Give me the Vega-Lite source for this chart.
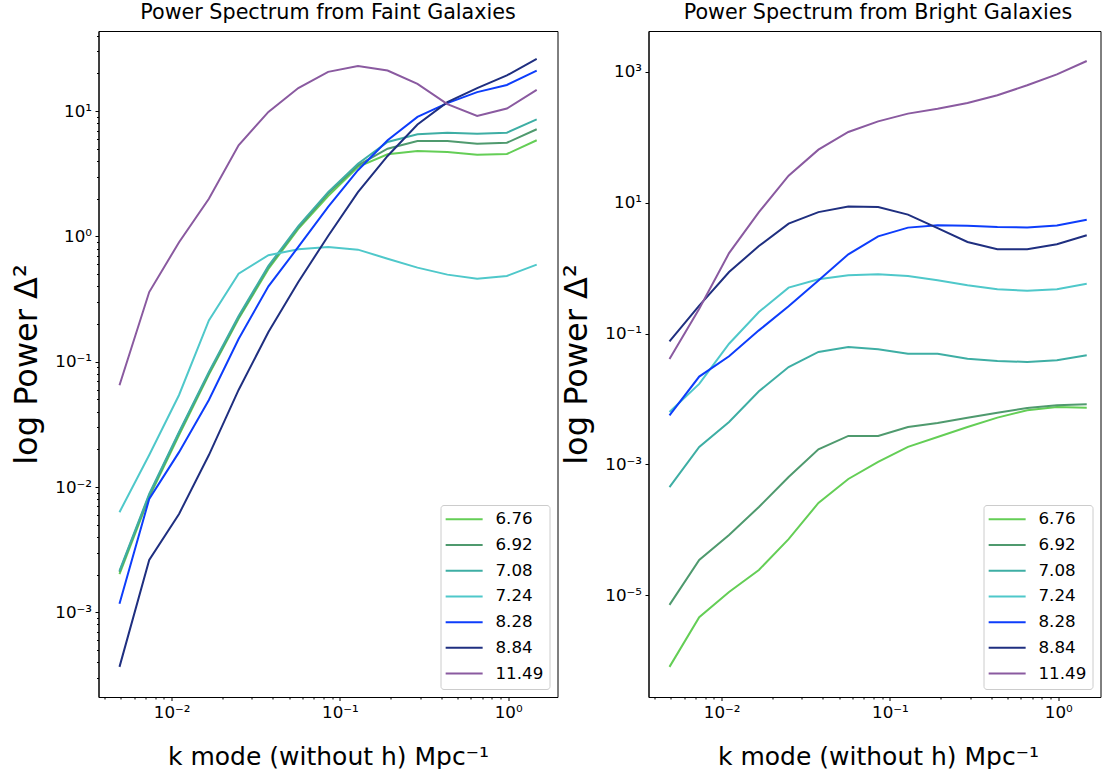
{
  "$schema": "https://vega.github.io/schema/vega-lite/v6.json",
  "background": "white",
  "padding": {"left": 9.5, "top": 1, "right": 0, "bottom": 0},
  "datasets": {
    "faint": [
      {"z": "6.76", "k": 0.0049, "p": 0.00202}, {"z": "6.76", "k": 0.00736, "p": 0.0083}, {"z": "6.76", "k": 0.01107, "p": 0.026}, {"z": "6.76", "k": 0.01665, "p": 0.079}, {"z": "6.76", "k": 0.025, "p": 0.22}, {"z": "6.76", "k": 0.0376, "p": 0.55}, {"z": "6.76", "k": 0.0566, "p": 1.15}, {"z": "6.76", "k": 0.0851, "p": 2.1}, {"z": "6.76", "k": 0.128, "p": 3.59}, {"z": "6.76", "k": 0.192, "p": 4.53}, {"z": "6.76", "k": 0.289, "p": 4.81}, {"z": "6.76", "k": 0.435, "p": 4.72}, {"z": "6.76", "k": 0.654, "p": 4.5}, {"z": "6.76", "k": 0.982, "p": 4.55}, {"z": "6.76", "k": 1.477, "p": 5.86},
      {"z": "6.92", "k": 0.0049, "p": 0.0021}, {"z": "6.92", "k": 0.00736, "p": 0.0086}, {"z": "6.92", "k": 0.01107, "p": 0.027}, {"z": "6.92", "k": 0.01665, "p": 0.081}, {"z": "6.92", "k": 0.025, "p": 0.226}, {"z": "6.92", "k": 0.0376, "p": 0.57}, {"z": "6.92", "k": 0.0566, "p": 1.18}, {"z": "6.92", "k": 0.0851, "p": 2.2}, {"z": "6.92", "k": 0.128, "p": 3.7}, {"z": "6.92", "k": 0.192, "p": 5.02}, {"z": "6.92", "k": 0.289, "p": 5.78}, {"z": "6.92", "k": 0.435, "p": 5.78}, {"z": "6.92", "k": 0.654, "p": 5.5}, {"z": "6.92", "k": 0.982, "p": 5.6}, {"z": "6.92", "k": 1.477, "p": 7.17},
      {"z": "7.08", "k": 0.0049, "p": 0.00214}, {"z": "7.08", "k": 0.00736, "p": 0.0088}, {"z": "7.08", "k": 0.01107, "p": 0.0275}, {"z": "7.08", "k": 0.01665, "p": 0.083}, {"z": "7.08", "k": 0.025, "p": 0.232}, {"z": "7.08", "k": 0.0376, "p": 0.582}, {"z": "7.08", "k": 0.0566, "p": 1.21}, {"z": "7.08", "k": 0.0851, "p": 2.26}, {"z": "7.08", "k": 0.128, "p": 3.81}, {"z": "7.08", "k": 0.192, "p": 5.68}, {"z": "7.08", "k": 0.289, "p": 6.54}, {"z": "7.08", "k": 0.435, "p": 6.74}, {"z": "7.08", "k": 0.654, "p": 6.61}, {"z": "7.08", "k": 0.982, "p": 6.74}, {"z": "7.08", "k": 1.477, "p": 8.61},
      {"z": "7.24", "k": 0.0049, "p": 0.0063}, {"z": "7.24", "k": 0.00736, "p": 0.018}, {"z": "7.24", "k": 0.01107, "p": 0.0543}, {"z": "7.24", "k": 0.01665, "p": 0.214}, {"z": "7.24", "k": 0.025, "p": 0.505}, {"z": "7.24", "k": 0.0376, "p": 0.708}, {"z": "7.24", "k": 0.0566, "p": 0.79}, {"z": "7.24", "k": 0.0851, "p": 0.824}, {"z": "7.24", "k": 0.128, "p": 0.785}, {"z": "7.24", "k": 0.192, "p": 0.665}, {"z": "7.24", "k": 0.289, "p": 0.564}, {"z": "7.24", "k": 0.435, "p": 0.496}, {"z": "7.24", "k": 0.654, "p": 0.46}, {"z": "7.24", "k": 0.982, "p": 0.484}, {"z": "7.24", "k": 1.477, "p": 0.596},
      {"z": "8.28", "k": 0.0049, "p": 0.00117}, {"z": "8.28", "k": 0.00736, "p": 0.00804}, {"z": "8.28", "k": 0.01107, "p": 0.019}, {"z": "8.28", "k": 0.01665, "p": 0.0496}, {"z": "8.28", "k": 0.025, "p": 0.152}, {"z": "8.28", "k": 0.0376, "p": 0.4}, {"z": "8.28", "k": 0.0566, "p": 0.825}, {"z": "8.28", "k": 0.0851, "p": 1.72}, {"z": "8.28", "k": 0.128, "p": 3.38}, {"z": "8.28", "k": 0.192, "p": 5.86}, {"z": "8.28", "k": 0.289, "p": 9.0}, {"z": "8.28", "k": 0.435, "p": 11.6}, {"z": "8.28", "k": 0.654, "p": 14.2}, {"z": "8.28", "k": 0.982, "p": 16.2}, {"z": "8.28", "k": 1.477, "p": 21.1},
      {"z": "8.84", "k": 0.0049, "p": 0.000367}, {"z": "8.84", "k": 0.00736, "p": 0.00262}, {"z": "8.84", "k": 0.01107, "p": 0.0061}, {"z": "8.84", "k": 0.01665, "p": 0.018}, {"z": "8.84", "k": 0.025, "p": 0.0596}, {"z": "8.84", "k": 0.0376, "p": 0.173}, {"z": "8.84", "k": 0.0566, "p": 0.433}, {"z": "8.84", "k": 0.0851, "p": 1.01}, {"z": "8.84", "k": 0.128, "p": 2.26}, {"z": "8.84", "k": 0.192, "p": 4.39}, {"z": "8.84", "k": 0.289, "p": 7.83}, {"z": "8.84", "k": 0.435, "p": 11.8}, {"z": "8.84", "k": 0.654, "p": 15.3}, {"z": "8.84", "k": 0.982, "p": 19.3}, {"z": "8.84", "k": 1.477, "p": 26.1},
      {"z": "11.49", "k": 0.0049, "p": 0.0649}, {"z": "11.49", "k": 0.00736, "p": 0.36}, {"z": "11.49", "k": 0.01107, "p": 0.9}, {"z": "11.49", "k": 0.01665, "p": 2.0}, {"z": "11.49", "k": 0.025, "p": 5.34}, {"z": "11.49", "k": 0.0376, "p": 9.86}, {"z": "11.49", "k": 0.0566, "p": 15.3}, {"z": "11.49", "k": 0.0851, "p": 20.6}, {"z": "11.49", "k": 0.128, "p": 22.9}, {"z": "11.49", "k": 0.192, "p": 21.1}, {"z": "11.49", "k": 0.289, "p": 16.5}, {"z": "11.49", "k": 0.435, "p": 11.4}, {"z": "11.49", "k": 0.654, "p": 9.16}, {"z": "11.49", "k": 0.982, "p": 10.5}, {"z": "11.49", "k": 1.477, "p": 14.8}
    ],
    "bright": [
      {"z": "6.76", "k": 0.0049, "p": 8.0e-7}, {"z": "6.76", "k": 0.00736, "p": 4.6e-6}, {"z": "6.76", "k": 0.01107, "p": 1.12e-5}, {"z": "6.76", "k": 0.01665, "p": 2.43e-5}, {"z": "6.76", "k": 0.025, "p": 7.2e-5}, {"z": "6.76", "k": 0.0376, "p": 2.57e-4}, {"z": "6.76", "k": 0.0566, "p": 5.98e-4}, {"z": "6.76", "k": 0.0851, "p": 0.00109}, {"z": "6.76", "k": 0.128, "p": 0.00185}, {"z": "6.76", "k": 0.192, "p": 0.00262}, {"z": "6.76", "k": 0.289, "p": 0.00373}, {"z": "6.76", "k": 0.435, "p": 0.00518}, {"z": "6.76", "k": 0.654, "p": 0.0067}, {"z": "6.76", "k": 0.982, "p": 0.00755}, {"z": "6.76", "k": 1.477, "p": 0.00737},
      {"z": "6.92", "k": 0.0049, "p": 7.1e-6}, {"z": "6.92", "k": 0.00736, "p": 3.45e-5}, {"z": "6.92", "k": 0.01107, "p": 8.3e-5}, {"z": "6.92", "k": 0.01665, "p": 2.23e-4}, {"z": "6.92", "k": 0.025, "p": 6.4e-4}, {"z": "6.92", "k": 0.0376, "p": 0.0017}, {"z": "6.92", "k": 0.0566, "p": 0.00272}, {"z": "6.92", "k": 0.0851, "p": 0.00272}, {"z": "6.92", "k": 0.128, "p": 0.00373}, {"z": "6.92", "k": 0.192, "p": 0.0043}, {"z": "6.92", "k": 0.289, "p": 0.00518}, {"z": "6.92", "k": 0.435, "p": 0.00617}, {"z": "6.92", "k": 0.654, "p": 0.00728}, {"z": "6.92", "k": 0.982, "p": 0.008}, {"z": "6.92", "k": 1.477, "p": 0.0083},
      {"z": "7.08", "k": 0.0049, "p": 0.00045}, {"z": "7.08", "k": 0.00736, "p": 0.00185}, {"z": "7.08", "k": 0.01107, "p": 0.00445}, {"z": "7.08", "k": 0.01665, "p": 0.0131}, {"z": "7.08", "k": 0.025, "p": 0.0308}, {"z": "7.08", "k": 0.0376, "p": 0.0523}, {"z": "7.08", "k": 0.0566, "p": 0.0624}, {"z": "7.08", "k": 0.0851, "p": 0.0575}, {"z": "7.08", "k": 0.128, "p": 0.0493}, {"z": "7.08", "k": 0.192, "p": 0.0493}, {"z": "7.08", "k": 0.289, "p": 0.0413}, {"z": "7.08", "k": 0.435, "p": 0.0381}, {"z": "7.08", "k": 0.654, "p": 0.0368}, {"z": "7.08", "k": 0.982, "p": 0.0391}, {"z": "7.08", "k": 1.477, "p": 0.0466},
      {"z": "7.24", "k": 0.0049, "p": 0.0063}, {"z": "7.24", "k": 0.00736, "p": 0.017}, {"z": "7.24", "k": 0.01107, "p": 0.07}, {"z": "7.24", "k": 0.01665, "p": 0.214}, {"z": "7.24", "k": 0.025, "p": 0.504}, {"z": "7.24", "k": 0.0376, "p": 0.676}, {"z": "7.24", "k": 0.0566, "p": 0.778}, {"z": "7.24", "k": 0.0851, "p": 0.806}, {"z": "7.24", "k": 0.128, "p": 0.76}, {"z": "7.24", "k": 0.192, "p": 0.652}, {"z": "7.24", "k": 0.289, "p": 0.547}, {"z": "7.24", "k": 0.435, "p": 0.475}, {"z": "7.24", "k": 0.654, "p": 0.453}, {"z": "7.24", "k": 0.982, "p": 0.475}, {"z": "7.24", "k": 1.477, "p": 0.578},
      {"z": "8.28", "k": 0.0049, "p": 0.0056}, {"z": "8.28", "k": 0.00736, "p": 0.022}, {"z": "8.28", "k": 0.01107, "p": 0.045}, {"z": "8.28", "k": 0.01665, "p": 0.112}, {"z": "8.28", "k": 0.025, "p": 0.261}, {"z": "8.28", "k": 0.0376, "p": 0.65}, {"z": "8.28", "k": 0.0566, "p": 1.63}, {"z": "8.28", "k": 0.0851, "p": 3.07}, {"z": "8.28", "k": 0.128, "p": 4.17}, {"z": "8.28", "k": 0.192, "p": 4.52}, {"z": "8.28", "k": 0.289, "p": 4.47}, {"z": "8.28", "k": 0.435, "p": 4.26}, {"z": "8.28", "k": 0.654, "p": 4.2}, {"z": "8.28", "k": 0.982, "p": 4.5}, {"z": "8.28", "k": 1.477, "p": 5.5},
      {"z": "8.84", "k": 0.0049, "p": 0.076}, {"z": "8.84", "k": 0.00736, "p": 0.267}, {"z": "8.84", "k": 0.01107, "p": 0.875}, {"z": "8.84", "k": 0.01665, "p": 2.18}, {"z": "8.84", "k": 0.025, "p": 4.8}, {"z": "8.84", "k": 0.0376, "p": 7.2}, {"z": "8.84", "k": 0.0566, "p": 8.8}, {"z": "8.84", "k": 0.0851, "p": 8.6}, {"z": "8.84", "k": 0.128, "p": 6.6}, {"z": "8.84", "k": 0.192, "p": 4.1}, {"z": "8.84", "k": 0.289, "p": 2.52}, {"z": "8.84", "k": 0.435, "p": 1.95}, {"z": "8.84", "k": 0.654, "p": 1.95}, {"z": "8.84", "k": 0.982, "p": 2.32}, {"z": "8.84", "k": 1.477, "p": 3.18},
      {"z": "11.49", "k": 0.0049, "p": 0.041}, {"z": "11.49", "k": 0.00736, "p": 0.24}, {"z": "11.49", "k": 0.01107, "p": 1.7}, {"z": "11.49", "k": 0.01665, "p": 7.2}, {"z": "11.49", "k": 0.025, "p": 26}, {"z": "11.49", "k": 0.0376, "p": 65}, {"z": "11.49", "k": 0.0566, "p": 121}, {"z": "11.49", "k": 0.0851, "p": 176}, {"z": "11.49", "k": 0.128, "p": 231}, {"z": "11.49", "k": 0.192, "p": 275}, {"z": "11.49", "k": 0.289, "p": 336}, {"z": "11.49", "k": 0.435, "p": 440}, {"z": "11.49", "k": 0.654, "p": 626}, {"z": "11.49", "k": 0.982, "p": 921}, {"z": "11.49", "k": 1.477, "p": 1472}
    ]
  },
  "hconcat": [
    {
      "width": 459,
      "height": 666,
      "title": {"text": "Power Spectrum from Faint Galaxies"},
      "data": {"name": "faint"},
      "layer": [
        {
          "mark": {"type": "line", "strokeWidth": 2, "clip": true},
          "encoding": {
            "x": {"field": "k", "type": "quantitative",
                  "scale": {"type": "log", "domain": [0.003677, 1.963], "nice": false, "zero": false},
                  "axis": {"orient": "bottom", "values": [0.01, 0.1, 1],
                           "labelExpr": "datum.value < 0.05 ? '10⁻²' : datum.value < 0.5 ? '10⁻¹' : '10⁰'",
                           "title": "k mode (without h) Mpc⁻¹", "titleX": 229.5, "titleY": 67, "titleBaseline": "alphabetic"}},
            "y": {"field": "p", "type": "quantitative",
                  "scale": {"type": "log", "domain": [0.000211, 43.65], "nice": false, "zero": false},
                  "axis": {"orient": "left", "values": [0.001, 0.01, 0.1, 1, 10],
                           "labelExpr": "datum.value < 0.005 ? '10⁻³' : datum.value < 0.05 ? '10⁻²' : datum.value < 0.5 ? '10⁻¹' : datum.value < 5 ? '10⁰' : '10¹'",
                           "title": "log Power Δ²", "titleFontSize": 32, "titleX": -62, "titleY": 333, "titleBaseline": "alphabetic", "titleAngle": 270, "titleAlign": "center"}},
            "color": {"field": "z", "type": "nominal", "sort": null,
                      "scale": {"domain": ["6.76", "6.92", "7.08", "7.24", "8.28", "8.84", "11.49"],
                                "range": ["#64ce56", "#4f9a6e", "#3eaea4", "#4fc8ca", "#0d3dfb", "#1f2f80", "#8a5aa0"]},
                      "legend": {"title": null, "orient": "bottom-right", "offset": 8, "padding": 6,
                                 "symbolType": "M-3,0H3", "symbolSize": 152, "symbolStrokeWidth": 2, "symbolOffset": 9.3,
                                 "labelOffset": 23, "rowPadding": 7.7}}
          }
        },
        {
          "mark": {"type": "point", "opacity": 0},
          "encoding": {
            "x": {"field": "k", "type": "quantitative",
                  "scale": {"type": "log", "domain": [0.003677, 1.963], "nice": false, "zero": false},
                  "axis": {"orient": "bottom", "values": [0.004, 0.005, 0.006, 0.007, 0.008, 0.009, 0.02, 0.03, 0.04, 0.05, 0.06, 0.07, 0.08, 0.09, 0.2, 0.3, 0.4, 0.5, 0.6, 0.7, 0.8, 0.9],
                           "labels": false, "domain": false, "tickSize": 2, "title": null}},
            "y": {"field": "p", "type": "quantitative",
                  "scale": {"type": "log", "domain": [0.000211, 43.65], "nice": false, "zero": false},
                  "axis": {"orient": "left", "values": [0.0003, 0.0004, 0.0005, 0.0006, 0.0007, 0.0008, 0.0009, 0.002, 0.003, 0.004, 0.005, 0.006, 0.007, 0.008, 0.009, 0.02, 0.03, 0.04, 0.05, 0.06, 0.07, 0.08, 0.09, 0.2, 0.3, 0.4, 0.5, 0.6, 0.7, 0.8, 0.9, 2, 3, 4, 5, 6, 7, 8, 9, 20, 30, 40],
                           "labels": false, "domain": false, "tickSize": 2, "title": null}}
          }
        }
      ],
      "resolve": {"axis": {"x": "independent", "y": "independent"}}
    },
    {
      "width": 452,
      "height": 666,
      "title": {"text": "Power Spectrum from Bright Galaxies", "dx": 3.5},
      "data": {"name": "bright"},
      "layer": [
        {
          "mark": {"type": "line", "strokeWidth": 2, "clip": true},
          "encoding": {
            "x": {"field": "k", "type": "quantitative",
                  "scale": {"type": "log", "domain": [0.003677, 1.783], "nice": false, "zero": false},
                  "axis": {"orient": "bottom", "values": [0.01, 0.1, 1],
                           "labelExpr": "datum.value < 0.05 ? '10⁻²' : datum.value < 0.5 ? '10⁻¹' : '10⁰'",
                           "title": "k mode (without h) Mpc⁻¹", "titleX": 229.5, "titleY": 67, "titleBaseline": "alphabetic"}},
            "y": {"field": "p", "type": "quantitative",
                  "scale": {"type": "log", "domain": [2.77e-7, 4236], "nice": false, "zero": false},
                  "axis": {"orient": "left", "values": [0.00001, 0.001, 0.1, 10, 1000],
                           "labelExpr": "datum.value < 0.0001 ? '10⁻⁵' : datum.value < 0.01 ? '10⁻³' : datum.value < 1 ? '10⁻¹' : datum.value < 100 ? '10¹' : '10³'",
                           "title": "log Power Δ²", "titleFontSize": 32, "titleX": -62, "titleY": 333, "titleBaseline": "alphabetic", "titleAngle": 270, "titleAlign": "center"}},
            "color": {"field": "z", "type": "nominal", "sort": null,
                      "scale": {"domain": ["6.76", "6.92", "7.08", "7.24", "8.28", "8.84", "11.49"],
                                "range": ["#64ce56", "#4f9a6e", "#3eaea4", "#4fc8ca", "#0d3dfb", "#1f2f80", "#8a5aa0"]},
                      "legend": {"title": null, "orient": "bottom-right", "offset": 8, "padding": 6,
                                 "symbolType": "M-3,0H3", "symbolSize": 152, "symbolStrokeWidth": 2, "symbolOffset": 9.3,
                                 "labelOffset": 23, "rowPadding": 7.7}}
          }
        },
        {
          "mark": {"type": "point", "opacity": 0},
          "encoding": {
            "x": {"field": "k", "type": "quantitative",
                  "scale": {"type": "log", "domain": [0.003677, 1.783], "nice": false, "zero": false},
                  "axis": {"orient": "bottom", "values": [0.004, 0.005, 0.006, 0.007, 0.008, 0.009, 0.02, 0.03, 0.04, 0.05, 0.06, 0.07, 0.08, 0.09, 0.2, 0.3, 0.4, 0.5, 0.6, 0.7, 0.8, 0.9],
                           "labels": false, "domain": false, "tickSize": 2, "title": null}}
          }
        }
      ],
      "resolve": {"axis": {"x": "independent"}}
    }
  ],
  "spacing": 91,
  "bounds": "flush",
  "resolve": {"legend": {"color": "independent"}},
  "config": {
    "font": "DejaVu Sans",
    "view": {"stroke": "black", "strokeWidth": 1},
    "axis": {
      "domainColor": "black", "domainWidth": 1,
      "tickColor": "black", "tickWidth": 1, "tickSize": 3.5,
      "labelColor": "black", "labelFont": "DejaVu Sans", "labelFontSize": 16.7, "labelPadding": 3.5,
      "titleColor": "black", "titleFont": "DejaVu Sans", "titleFontSize": 25, "titleFontWeight": "normal",
      "grid": false, "labelFlush": false
    },
    "title": {"font": "DejaVu Sans", "fontSize": 20.7, "fontWeight": "normal", "color": "black", "offset": 7},
    "legend": {
      "labelFont": "DejaVu Sans", "labelFontSize": 16.7, "labelColor": "black",
      "strokeColor": "#cccccc", "fillColor": "white", "cornerRadius": 3
    }
  }
}
